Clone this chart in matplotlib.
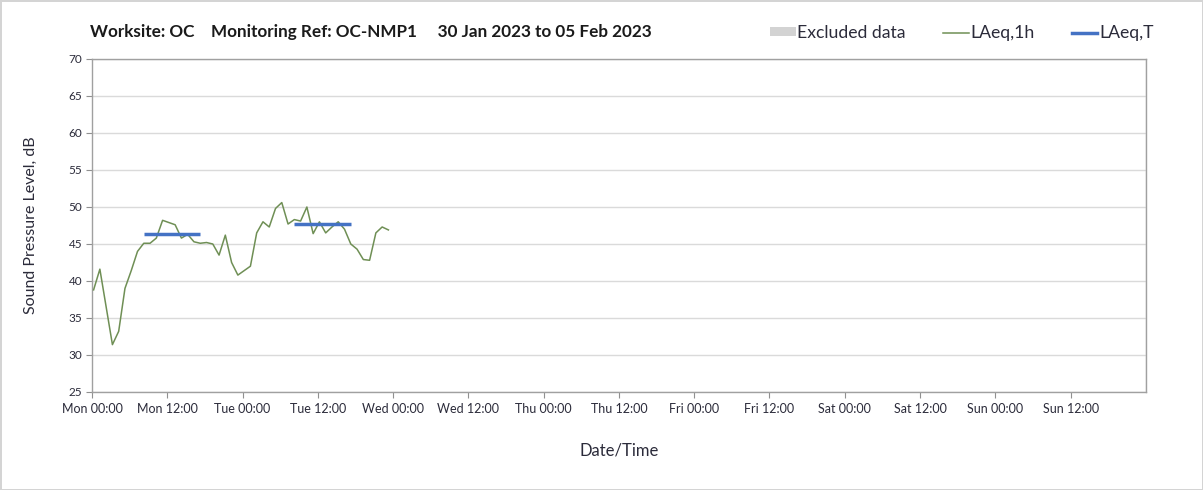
import pandas as pd
import matplotlib.pyplot as plt
from matplotlib.patches import Patch
from matplotlib.lines import Line2D

plt.rcParams['font.family'] = ['Lato', 'DejaVu Sans']

# hourly LAeq,1h readings, Mon 00:15 to Tue 23:15
laeq_1h = [38.8, 41.6, 36.5, 31.4, 33.2, 39.0, 41.4, 44.0, 45.1, 45.1,
           45.8, 48.2, 47.9, 47.6, 45.8, 46.3, 45.3, 45.1, 45.2, 45.0,
           43.5, 46.2, 42.5, 40.8, 41.4, 42.0, 46.5, 48.0, 47.3, 49.8,
           50.6, 47.7, 48.3, 48.1, 50.0, 46.4, 48.0, 46.5, 47.3, 48.0,
           47.0, 45.0, 44.3, 42.9, 42.8, 46.5, 47.3, 46.9]
hours = pd.date_range('2023-01-30 00:15', periods=len(laeq_1h), freq='h')

# daytime LAeq,T periods
laeq_t_start = ['2023-01-30 08:15', '2023-01-31 08:15']
laeq_t_end = ['2023-01-30 17:15', '2023-01-31 17:15']
laeq_t = [46.3, 47.7]

tick_labels = ['Mon 00:00', 'Mon 12:00', 'Tue 00:00', 'Tue 12:00', 'Wed 00:00',
               'Wed 12:00', 'Thu 00:00', 'Thu 12:00', 'Fri 00:00', 'Fri 12:00',
               'Sat 00:00', 'Sat 12:00', 'Sun 00:00', 'Sun 12:00']

green = '#6f8f55'
blue = '#4472c4'
txt = '#2b2b3a'

fig = plt.figure(figsize=(12.03, 4.90), dpi=100)
fig.patch.set_edgecolor('#d4d4d4')
fig.patch.set_linewidth(2)
ax = fig.add_axes([0.0765, 0.2, 0.876, 0.6796])

ax.plot(hours, laeq_1h, color=green, lw=1.1, zorder=3)
for s, e, v in zip(laeq_t_start, laeq_t_end, laeq_t):
    ax.plot([pd.Timestamp(s), pd.Timestamp(e)], [v, v], color=blue, lw=2.5,
            solid_capstyle='butt', zorder=4)

t0 = pd.Timestamp('2023-01-30 00:00')
ax.set_xlim(t0, t0 + pd.Timedelta(days=7))
ax.set_ylim(25, 70)
ax.set_yticks(range(25, 71, 5))
ax.set_xticks(pd.date_range(t0, periods=len(tick_labels), freq='12h'))
ax.set_xticklabels(tick_labels)
ax.set_xticks(pd.date_range(t0, periods=8, freq='D'), minor=True)

ax.grid(False)
ax.xaxis.grid(True, which='minor', color='#dadada', lw=1)
ax.yaxis.grid(True, which='major', color='#dadada', lw=1)
ax.set_axisbelow(True)

ax.tick_params(axis='x', which='major', length=4, color='#909090',
               labelsize=9, labelcolor=txt, pad=4)
ax.tick_params(axis='x', which='minor', length=0)
ax.tick_params(axis='y', length=4, color='#909090', labelsize=8.5,
               labelcolor=txt, pad=3)
for sp in ax.spines.values():
    sp.set_color('#a0a0a0')
    sp.set_linewidth(1)

ax.set_ylabel('Sound Pressure Level, dB', fontsize=11.5, color=txt, labelpad=22)
ax.set_xlabel('Date/Time', fontsize=12, color=txt, labelpad=20)

fig.text(0.075, 0.935, 'Worksite: OC    Monitoring Ref: OC-NMP1     30 Jan 2023 to 05 Feb 2023',
         fontsize=12.3, fontweight='bold', color='#1a1a1a', va='center')

handles = [Patch(facecolor='#d3d3d3', edgecolor='none'),
           Line2D([], [], color=green, lw=1.1),
           Line2D([], [], color=blue, lw=2.5)]
fig.legend(handles, ['Excluded data', 'LAeq,1h', 'LAeq,T'], loc='center right',
           bbox_to_anchor=(0.972, 0.933), ncol=3, frameon=False, fontsize=12.7,
           handlelength=1.45, handleheight=0.35, handletextpad=0.1,
           columnspacing=2.1, labelcolor=txt)

fig.savefig('out.png', dpi=100)
